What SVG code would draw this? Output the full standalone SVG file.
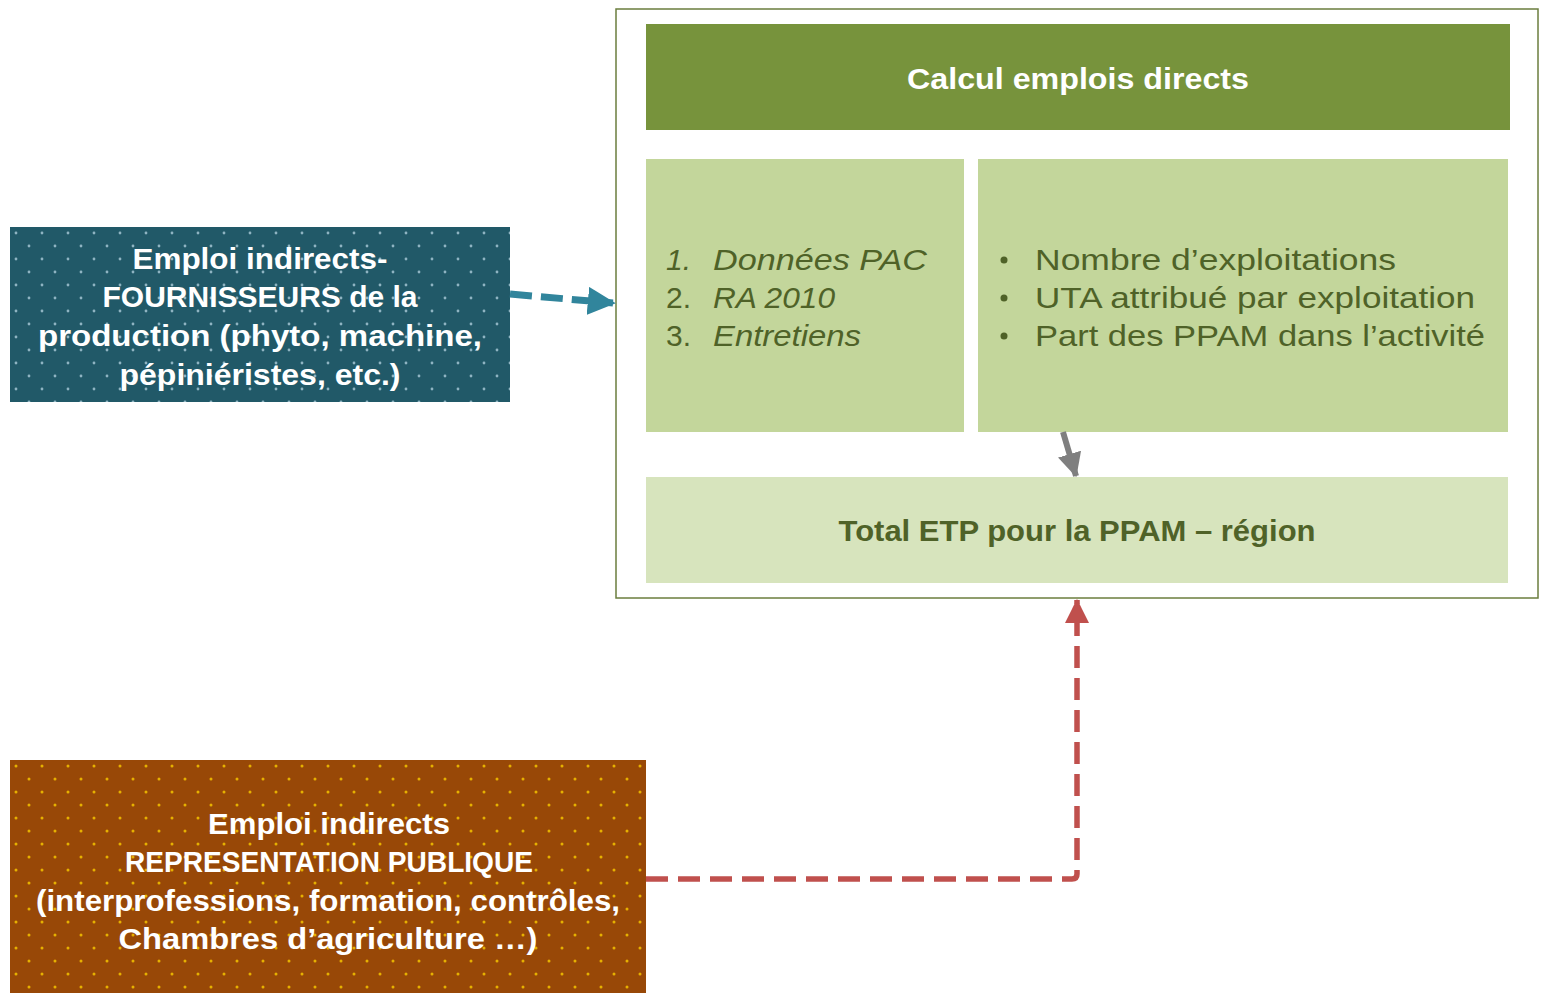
<svg xmlns="http://www.w3.org/2000/svg" width="1543" height="993" viewBox="0 0 1543 993">
<defs>
<style>
.w{font-family:"Liberation Sans",Arial,sans-serif;font-weight:bold;fill:#ffffff;font-size:29px}
.g{font-family:"Liberation Sans",Arial,sans-serif;fill:#4f6228;font-size:30px}
.it{font-style:italic}
.b{font-family:"Liberation Sans",Arial,sans-serif;font-weight:bold;fill:#4f6228;font-size:30px}
</style>
<pattern id="dotsBlue" width="26" height="26" patternUnits="userSpaceOnUse" x="10" y="227">
<rect width="26" height="26" fill="#215968"/>
<circle cx="6" cy="6" r="1.4" fill="#8fb4c2"/>
<circle cx="19" cy="19" r="1.4" fill="#8fb4c2"/>
</pattern>
<pattern id="dotsOrange" width="26" height="26" patternUnits="userSpaceOnUse" x="10" y="760">
<rect width="26" height="26" fill="#984807"/>
<circle cx="6" cy="6" r="1.5" fill="#e6b000"/>
<circle cx="19" cy="19" r="1.5" fill="#e6b000"/>
</pattern>
<marker id="arrBlue" markerWidth="4" markerHeight="4" refX="3.6" refY="2" orient="auto" markerUnits="strokeWidth">
<path d="M0,0 L4,2 L0,4 Z" fill="#31859c"/>
</marker>
<marker id="arrRed" markerWidth="4.4" markerHeight="4.4" refX="4.2" refY="2.2" orient="auto" markerUnits="strokeWidth">
<path d="M0,0 L4.4,2.2 L0,4.4 Z" fill="#c0504d"/>
</marker>
<marker id="arrGray" markerWidth="4" markerHeight="4" refX="3.8" refY="2" orient="auto" markerUnits="strokeWidth">
<path d="M0,0 L4,2 L0,4 Z" fill="#7f7f7f"/>
</marker>
</defs>
<rect width="1543" height="993" fill="#ffffff"/>

<g id="frame">
<rect x="616" y="9" width="922" height="589" fill="none" stroke="#6b7e3e" stroke-width="1.5"/>
</g>

<g id="header">
<rect x="646" y="24" width="864" height="106" fill="#77933c"/>
<text class="w" x="1078" y="89" text-anchor="middle" textLength="342" lengthAdjust="spacingAndGlyphs">Calcul emplois directs</text>
</g>

<g id="sources">
<rect x="646" y="159" width="318" height="273" fill="#c3d69b"/>
<text class="g it" x="666" y="270">1.</text>
<text class="g it" x="713" y="270" textLength="214" lengthAdjust="spacingAndGlyphs">Données PAC</text>
<text class="g" x="666" y="308">2.</text>
<text class="g it" x="713" y="308" textLength="122" lengthAdjust="spacingAndGlyphs">RA 2010</text>
<text class="g" x="666" y="346">3.</text>
<text class="g it" x="713" y="346" textLength="148" lengthAdjust="spacingAndGlyphs">Entretiens</text>
</g>

<g id="indicators">
<rect x="978" y="159" width="530" height="273" fill="#c3d69b"/>
<circle cx="1004" cy="260" r="3.5" fill="#4f6228"/>
<circle cx="1004" cy="298" r="3.5" fill="#4f6228"/>
<circle cx="1004" cy="336" r="3.5" fill="#4f6228"/>
<text class="g" x="1035" y="270" textLength="361" lengthAdjust="spacingAndGlyphs">Nombre d’exploitations</text>
<text class="g" x="1035" y="308" textLength="440" lengthAdjust="spacingAndGlyphs">UTA attribué par exploitation</text>
<text class="g" x="1035" y="346" textLength="450" lengthAdjust="spacingAndGlyphs">Part des PPAM dans l’activité</text>
</g>

<g id="total">
<rect x="646" y="477" width="862" height="106" fill="#d7e4bd"/>
<text class="b" x="1077" y="541" text-anchor="middle" textLength="477" lengthAdjust="spacingAndGlyphs">Total ETP pour la PPAM – région</text>
</g>

<g id="fournisseurs">
<rect x="10" y="227" width="500" height="175" fill="url(#dotsBlue)"/>
<text class="w" x="260" y="269" text-anchor="middle" textLength="255" lengthAdjust="spacingAndGlyphs">Emploi indirects-</text>
<text class="w" x="260" y="307" text-anchor="middle" textLength="315" lengthAdjust="spacingAndGlyphs">FOURNISSEURS  de la</text>
<text class="w" x="260" y="346" text-anchor="middle" textLength="444" lengthAdjust="spacingAndGlyphs">production (phyto, machine,</text>
<text class="w" x="260" y="385" text-anchor="middle" textLength="281" lengthAdjust="spacingAndGlyphs">pépiniéristes, etc.)</text>
</g>

<g id="representation">
<rect x="10" y="760" width="636" height="233" fill="url(#dotsOrange)"/>
<text class="w" x="329" y="834" text-anchor="middle" textLength="242" lengthAdjust="spacingAndGlyphs">Emploi indirects</text>
<text class="w" x="329" y="872" text-anchor="middle" textLength="408" lengthAdjust="spacingAndGlyphs">REPRESENTATION PUBLIQUE</text>
<text class="w" x="328" y="911" text-anchor="middle" textLength="584" lengthAdjust="spacingAndGlyphs">(interprofessions, formation, contrôles,</text>
<text class="w" x="328" y="949" text-anchor="middle" textLength="419" lengthAdjust="spacingAndGlyphs">Chambres d’agriculture …)</text>
</g>

<g id="connectors">
<path d="M510,294 L613,303" fill="none" stroke="#31859c" stroke-width="7" stroke-dasharray="22,9" marker-end="url(#arrBlue)"/>
<path d="M646,879 L1072,879 Q1077,879 1077,874 L1077,600" fill="none" stroke="#c0504d" stroke-width="5.5" stroke-dasharray="22,10" marker-end="url(#arrRed)"/>
<path d="M1063,432 L1076,476" fill="none" stroke="#7f7f7f" stroke-width="6" marker-end="url(#arrGray)"/>
</g>
</svg>
